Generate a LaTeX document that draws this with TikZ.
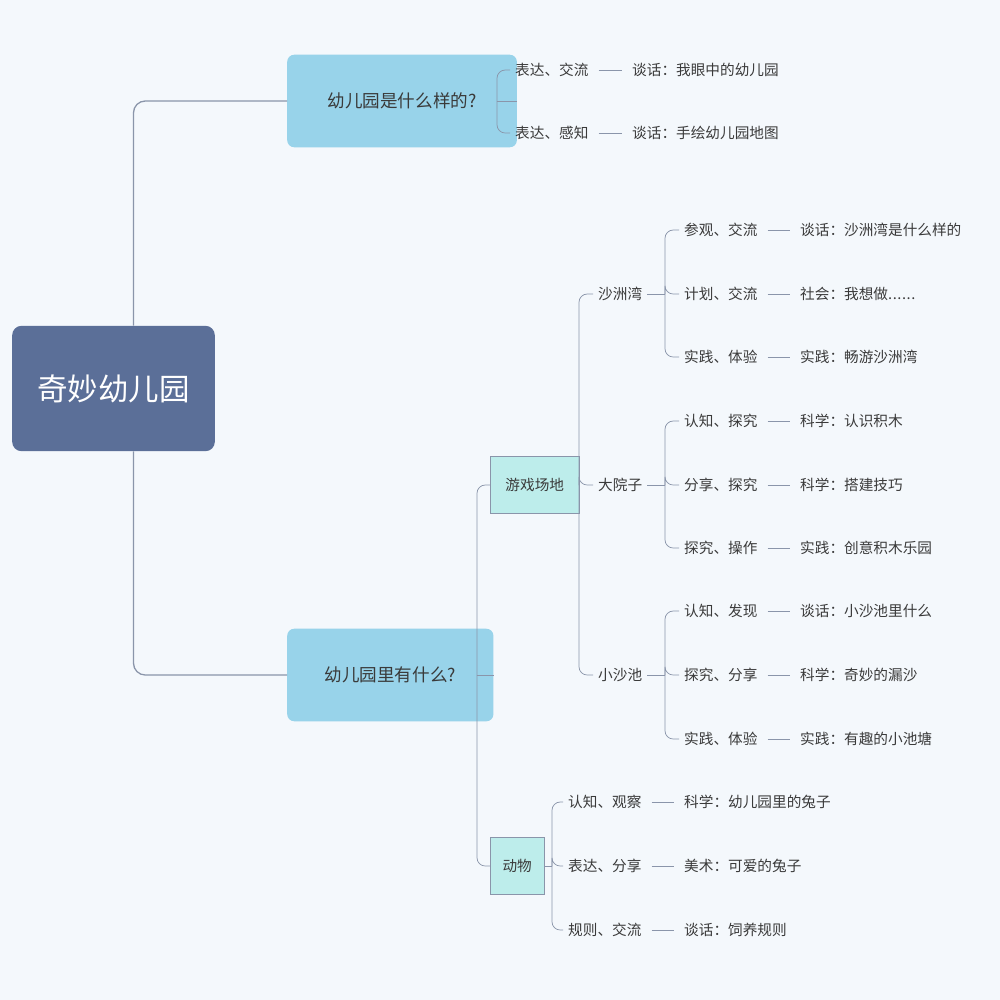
\documentclass[tikz,border=0pt]{standalone}
\usepackage{fontspec}
\setmainfont{Noto Sans CJK SC}
\definecolor{bgcol}{HTML}{F4F8FC}
\definecolor{rootcol}{HTML}{5B6F98}
\definecolor{maincol}{HTML}{98D3EA}
\definecolor{subcol}{HTML}{BDEDEB}
\definecolor{linecol}{HTML}{8A95AA}
\definecolor{txtcol}{HTML}{3A3A3A}
\newcommand{\sixdots}{.\kern0.5pt.\kern0.5pt.\kern0.5pt.\kern0.5pt.\kern0.5pt.}
\tikzset{
  root/.style={rounded corners=8pt,fill=rootcol,text=white,font=\fontsize{26}{28}\selectfont,
    minimum width=173,minimum height=107,inner sep=0},
  main/.style={rounded corners=6pt,fill=maincol,text=txtcol,font=\fontsize{15}{17}\selectfont,
    minimum height=79,inner sep=0,anchor=west},
  sub/.style={draw=linecol,fill=subcol,text=txtcol,font=\fontsize{12.5}{14}\selectfont,
    minimum height=49,inner sep=0,anchor=west},
  leaf/.style={text=txtcol,font=\fontsize{12.5}{14}\selectfont,inner sep=0,anchor=west},
  trunk/.style={draw=linecol,line width=1.1pt,rounded corners=10pt},
  br/.style={draw=linecol,line width=0.6pt,rounded corners=7pt},
  link/.style={draw=linecol,line width=0.6pt,shorten <=3mm,shorten >=3mm}
}
\begin{document}
\begin{tikzpicture}[x=0.3mm,y=-0.3mm]
\fill[bgcol] (0,0) rectangle (1000,1000);
\useasboundingbox (0,0) rectangle (1000,1000);

\node[root] (root) at (113.5,388.5) {奇妙幼儿园};
\node[main,minimum width=196] (ask) at (287,101) {幼儿园是什么样的?};
\node[main,minimum width=176] (have) at (287,675) {幼儿园里有什么?};
\draw[trunk] ([xshift=20*0.3mm]root.north) |- (ask.west);
\draw[trunk] ([xshift=20*0.3mm]root.south) |- (have.west);

% first branch
\coordinate (ja) at (497,101);
\draw[br] (ask.east) -- (ja);
\foreach \n/\y/\a/\b in {a1/70/表达、交流/谈话：我眼中的幼儿园,
                         a2/133/表达、感知/谈话：手绘幼儿园地图}{
  \node[leaf] (\n a) at (515,\y) {\a};
  \node[leaf] (\n b) at (632,\y) {\b};
  \draw[link] (\n a.east) -- (\n b.west);
  \draw[br] (ja) |- ([xshift=-1.5mm]\n a.west);
}

% second branch
\node[sub,minimum width=76] (play) at (490,485) {游戏场地};
\node[sub,minimum width=46] (pet) at (490,866) {动物};
\coordinate (jh) at (477,675);
\draw[br] (have.east) -- (jh);
\draw[br] (jh) |- (play.west);
\draw[br] (jh) |- (pet.west);

\coordinate (jp) at (579,485);
\draw[br] (play.east) -- (jp);
\foreach \n/\y/\t in {sz/294/沙洲湾,dy/485/大院子,xs/675/小沙池}{
  \node[leaf] (\n) at (598,\y) {\t};
  \draw[br] (jp) |- ([xshift=-1.5mm]\n.west);
  \coordinate (j\n) at (665,\y);
  \draw[br] ([xshift=1.5mm]\n.east) -- (j\n);
}
\foreach \p/\n/\y/\a/\b in {sz/s1/230/参观、交流/谈话：沙洲湾是什么样的,
                            sz/s2/294/计划、交流/社会：我想做\sixdots,
                            sz/s3/357/实践、体验/实践：畅游沙洲湾,
                            dy/d1/421/认知、探究/科学：认识积木,
                            dy/d2/485/分享、探究/科学：搭建技巧,
                            dy/d3/548/探究、操作/实践：创意积木乐园,
                            xs/x1/611/认知、发现/谈话：小沙池里什么,
                            xs/x2/675/探究、分享/科学：奇妙的漏沙,
                            xs/x3/739/实践、体验/实践：有趣的小池塘}{
  \node[leaf] (\n a) at (684,\y) {\a};
  \node[leaf] (\n b) at (800,\y) {\b};
  \draw[link] (\n a.east) -- (\n b.west);
  \draw[br] (j\p) |- ([xshift=-1.5mm]\n a.west);
}

\coordinate (jd) at (552,866);
\draw[br] (pet.east) -- (jd);
\foreach \n/\y/\a/\b in {p1/802/认知、观察/科学：幼儿园里的兔子,
                         p2/866/表达、分享/美术：可爱的兔子,
                         p3/930/规则、交流/谈话：饲养规则}{
  \node[leaf] (\n a) at (568,\y) {\a};
  \node[leaf] (\n b) at (684,\y) {\b};
  \draw[link] (\n a.east) -- (\n b.west);
  \draw[br] (jd) |- ([xshift=-1.5mm]\n a.west);
}
\end{tikzpicture}
\end{document}
